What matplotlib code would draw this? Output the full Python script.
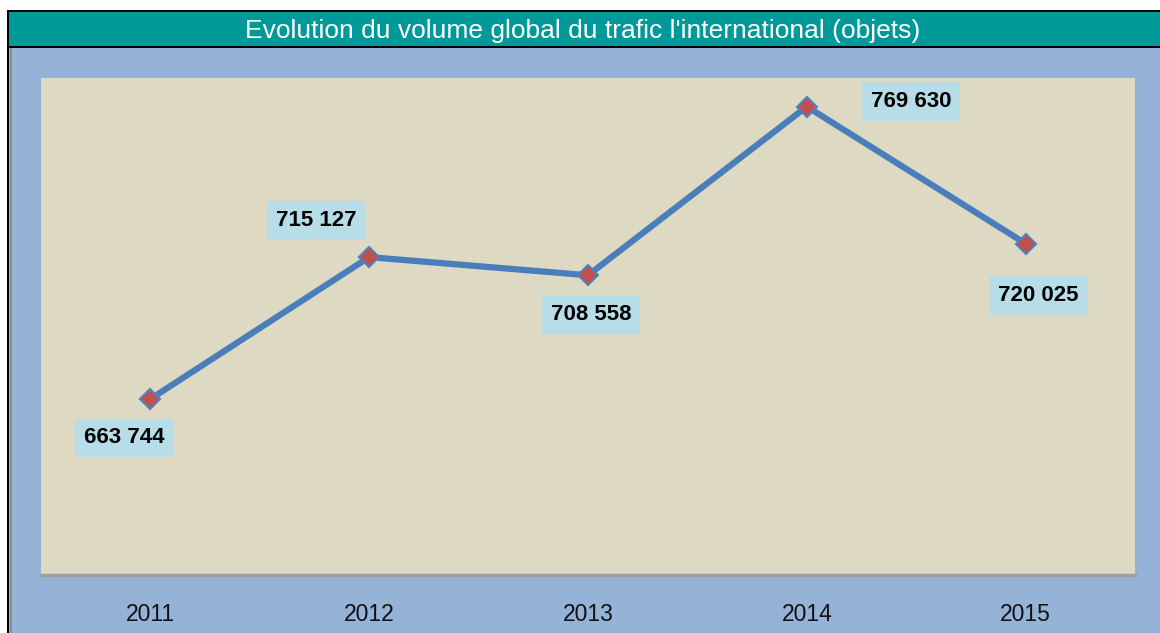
import matplotlib
matplotlib.use("Agg")
import matplotlib.pyplot as plt
from matplotlib.patches import Rectangle
from matplotlib import font_manager

years = ["2011", "2012", "2013", "2014", "2015"]
volumes = [663744, 715127, 708558, 769630, 720025]
labels = ["663 744", "715 127", "708 558", "769 630", "720 025"]
title = "Evolution du volume global du trafic l'international (objets)"

names = {f.name for f in font_manager.fontManager.ttflist}
narrow = "Liberation Sans Narrow" if "Liberation Sans Narrow" in names else "Liberation Sans"
plt.rcParams['font.family'] = [narrow, 'DejaVu Sans']

W, H = 1160, 633
fig = plt.figure(figsize=(W / 100, H / 100), dpi=100)
fig.patch.set_facecolor("white")

def rect(x0, y0, x1, y1, color, z=0):
    fig.add_artist(Rectangle((x0 / W, 1 - y1 / H), (x1 - x0) / W, (y1 - y0) / H,
                             transform=fig.transFigure, facecolor=color,
                             edgecolor="none", zorder=z))

rect(9, 48, W, H, "#95B3D7")
rect(10, 48, 12, H, "#8C8C8C", 1)
rect(7, 10, 9, H, "black", 2)
rect(7, 10, W, 12, "black", 2)
rect(9, 12, W, 46, "#009999", 1)
rect(9, 46, W, 48, "black", 2)
fig.text(583 / W, 1 - 31 / H, title, color="white", fontsize=19,
         ha="center", va="center")

ax = fig.add_axes([41 / W, (H - 575) / H, 1094 / W, 497 / H])
ax.set_facecolor("#DDD9C3")
x = list(range(len(years)))
ax.plot(x, volumes, color="#4A7EBB", lw=4.5, zorder=3,
        marker="D", markersize=10, markerfacecolor="#C0504D",
        markeredgecolor="#4F81BD", markeredgewidth=1.5)
ax.set_xlim(-0.5, len(years) - 0.5)
ax.set_ylim(600000, 780000)
ax.set_yticks([])
ax.set_xticks(x)
ax.set_xticklabels(years, fontsize=16.5, color="#111111")
ax.tick_params(axis="x", length=0, pad=20)
for s in ["top", "left", "right"]:
    ax.spines[s].set_visible(False)
ax.spines["bottom"].set_color("#9E9E9E")
ax.spines["bottom"].set_linewidth(2.5)

offsets = [(-26, -39), (-53, 37), (3, -39), (104, 5), (13, -52)]
for xi, v, lab, (dx, dy) in zip(x, volumes, labels, offsets):
    ax.annotate(lab, (xi, v), xytext=(dx, dy), textcoords="offset pixels",
                ha="center", va="center", fontsize=16, fontweight="bold",
                color="black", zorder=4,
                bbox=dict(boxstyle="square,pad=0.4", facecolor="#B7DEE8",
                          edgecolor="none"))

fig.savefig("out.png", dpi=100)
